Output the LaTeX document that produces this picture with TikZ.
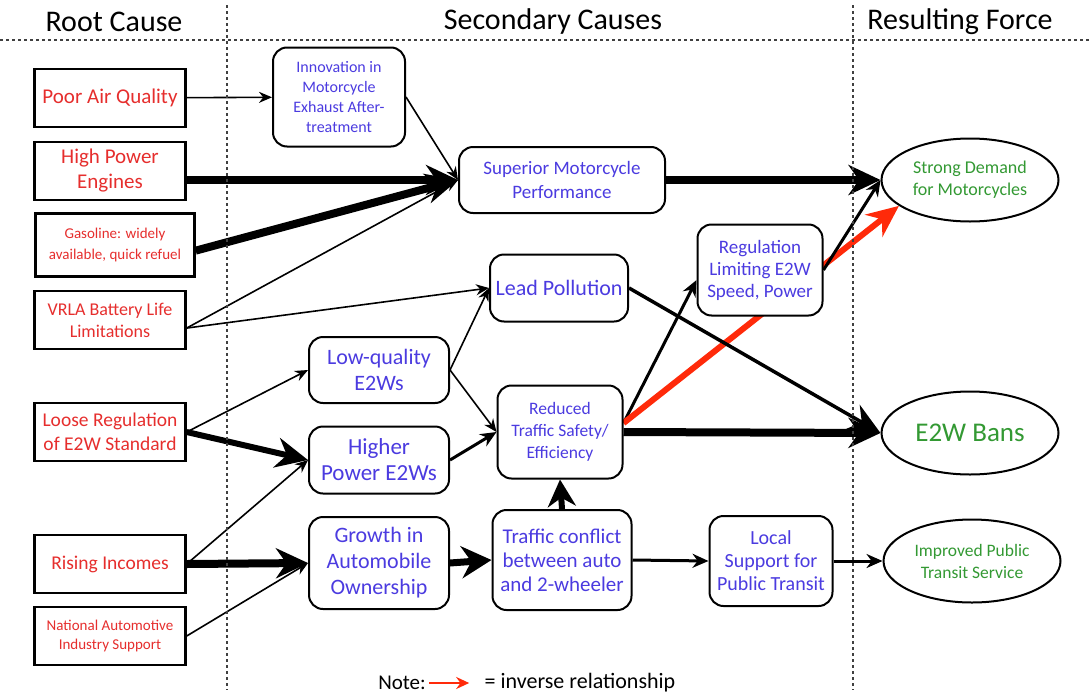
\documentclass[tikz,border=0pt]{standalone}
\usepackage{fontspec}
\setmainfont{Carlito}
\usepackage{tikz}
\usetikzlibrary{arrows.meta,shapes.geometric,backgrounds}
\definecolor{CauseRed}{HTML}{E62E2D}
\definecolor{SecBlue}{HTML}{4B3BE0}
\definecolor{ResGreen}{HTML}{339933}
\definecolor{InvRed}{HTML}{FF2A0A}

\begin{document}
\begin{tikzpicture}[x=1pt, y=-1pt,
  root/.style={draw, fill=white, line width=2.4pt, text=CauseRed, align=center,
               minimum width=151pt, minimum height=58pt, inner sep=2pt},
  sec/.style={draw, fill=white, line width=2pt, rounded corners=14pt, text=SecBlue,
              align=center, inner sep=2pt},
  result/.style={draw, fill=white, ellipse, line width=2pt, text=ResGreen, align=center,
                 minimum width=177pt, minimum height=83pt, inner sep=1pt},
  header/.style={font=\fontsize{30}{34}\selectfont},
  divider/.style={dash pattern=on 3pt off 3pt, line width=1.2pt, black!75},
  link/.style={-{Stealth[length=13pt, width=11pt]}, line width=1.6pt},
  medlink/.style={-{Stealth[length=16pt, width=14pt]}, line width=3pt},
  heavylink/.style={-{Stealth[length=32pt, width=30pt]}, line width=8pt},
  inverse/.style={-{Stealth[length=32pt, width=28pt]}, line width=6pt, draw=InvRed}
]
  \useasboundingbox (0,0) rectangle (1091,696);

  % column headers and dividers
  \node[header] (hroot) at (114,22) {Root Cause};
  \node[header] (hsec)  at (553,22) {Secondary Causes};
  \node[header] (hres)  at (960,22) {Resulting Force};
  \draw[divider] (0,40) -- (1091,40);
  \draw[divider] (227,5) -- (227,690);
  \draw[divider] (853,5) -- (853,690);

  % root causes
  \node[root, font=\fontsize{21}{25}\selectfont] (poor) at (110,98) {Poor Air Quality};
  \node[root, font=\fontsize{21}{25}\selectfont] (high) at (110,171) {High Power\\Engines};
  \node[root, font=\fontsize{15}{21}\selectfont, minimum width=159pt, minimum height=63pt]
    (gas) at (115,245) {Gasoline: widely\\available, quick refuel};
  \node[root, font=\fontsize{18}{22}\selectfont] (vrla) at (110,320) {VRLA Battery Life\\Limitations};
  \node[root, font=\fontsize{19.5}{24}\selectfont] (loose) at (110,432) {Loose Regulation\\of E2W Standard};
  \node[root, font=\fontsize{19.5}{23}\selectfont] (rising) at (110,564) {Rising Incomes};
  \node[root, font=\fontsize{15}{19}\selectfont] (natl) at (110,636) {National Automotive\\Industry Support};

  % secondary causes
  \node[sec, font=\fontsize{16}{20}\selectfont, minimum width=132pt, minimum height=99pt]
    (innov) at (339,97) {Innovation in\\Motorcycle\\Exhaust After-\\treatment};
  \node[sec, font=\fontsize{19}{24}\selectfont, minimum width=206pt, minimum height=66pt]
    (sup) at (562,180) {Superior Motorcycle\\Performance};
  \node[sec, font=\fontsize{22}{26}\selectfont, minimum width=138pt, minimum height=67pt]
    (lead) at (559,288) {Lead Pollution};
  \node[sec, font=\fontsize{19}{22}\selectfont, minimum width=125pt, minimum height=91pt]
    (reg) at (760,270) {Regulation\\Limiting E2W\\Speed, Power};
  \node[sec, font=\fontsize{22}{26}\selectfont, minimum width=140pt, minimum height=66pt]
    (low) at (379,370) {Low-quality\\E2Ws};
  \node[sec, font=\fontsize{23}{26}\selectfont, minimum width=140pt, minimum height=67pt]
    (higher) at (379,460) {Higher\\Power E2Ws};
  \node[sec, font=\fontsize{17.5}{22}\selectfont, minimum width=125pt, minimum height=93pt]
    (reduced) at (560,432) {Reduced\\Traffic Safety/\\Efficiency};
  \node[sec, font=\fontsize{22}{26}\selectfont, minimum width=140pt, minimum height=92pt]
    (growth) at (379,563) {Growth in\\Automobile\\Ownership};
  \node[sec, font=\fontsize{21}{24}\selectfont, minimum width=139pt, minimum height=100pt]
    (conflict) at (562,560) {Traffic conflict\\between auto\\and 2-wheeler};
  \node[sec, font=\fontsize{20}{23}\selectfont, minimum width=123pt, minimum height=90pt]
    (local) at (771,561) {Local\\Support for\\Public Transit};

  % resulting forces
  \node[result, font=\fontsize{18}{22}\selectfont] (strong) at (970,180) {Strong Demand\\for Motorcycles};
  \node[result, font=\fontsize{27}{30}\selectfont] (bans) at (970,433) {E2W Bans};
  \node[result, font=\fontsize{17.5}{22}\selectfont] (transit) at (972,561) {Improved Public\\Transit Service};

  % links, kept behind the boxes
  \begin{scope}[on background layer]
  \draw[link] (poor) -- (innov);
  \draw[link] (innov.east) -- (sup.west);
  \draw[heavylink] (high.east |- sup.west) -- (sup.west);
  \draw[heavylink] (gas.-4) -- (sup.west);
  \draw[link] (vrla.-6) -- (sup.west);
  \draw[link] (vrla.-6) -- (lead.west);
  \draw[link] (loose.east) -- (low.west);
  \draw[-{Stealth[length=32pt, width=30pt]}, line width=6pt] (loose.east) -- (higher.west);
  \draw[link] (rising.east) -- (higher.west);
  \draw[heavylink] (rising.east) -- (growth.west);
  \draw[link] (natl.east) -- (growth.west);
  \draw[link] (low.east) -- (lead.west);
  \draw[link] (low.east) -- (reduced.west);
  \draw[medlink] (higher.east) -- (reduced.west);
  \draw[-{Stealth[length=30pt, width=32pt]}, line width=7pt] (growth.east) -- (conflict.west);
  \draw[-{Stealth[length=27pt, width=28pt]}, line width=6pt] (conflict.north) -- (reduced.south);
  \draw[medlink] (conflict.east) -- (local.west);
  \draw[medlink] (local.east) -- (transit.west);
  \draw[medlink] (reduced.8) -- (reg.189);
  \draw[inverse] (reduced.8) -- (strong.200);
  \draw[heavylink] (reduced.east) -- (bans.west);
  \draw[-{Stealth[length=32pt, width=28pt]}, line width=3.5pt] (lead.east) -- (bans.west);
  \draw[medlink] (reg.east) -- (strong.west);
  \draw[heavylink] (sup.east) -- (strong.west);
  \end{scope}

  % legend
  \node[font=\fontsize{21}{25}\selectfont] (note) at (402,683) {Note:};
  \node[font=\fontsize{22}{25}\selectfont] (inv) at (580,683) {= inverse relationship};
  \draw[-{Stealth[length=13pt, width=12pt]}, line width=2.4pt, draw=InvRed]
    (note.east) -- ([xshift=-12pt]inv.west);
\end{tikzpicture}
\end{document}
